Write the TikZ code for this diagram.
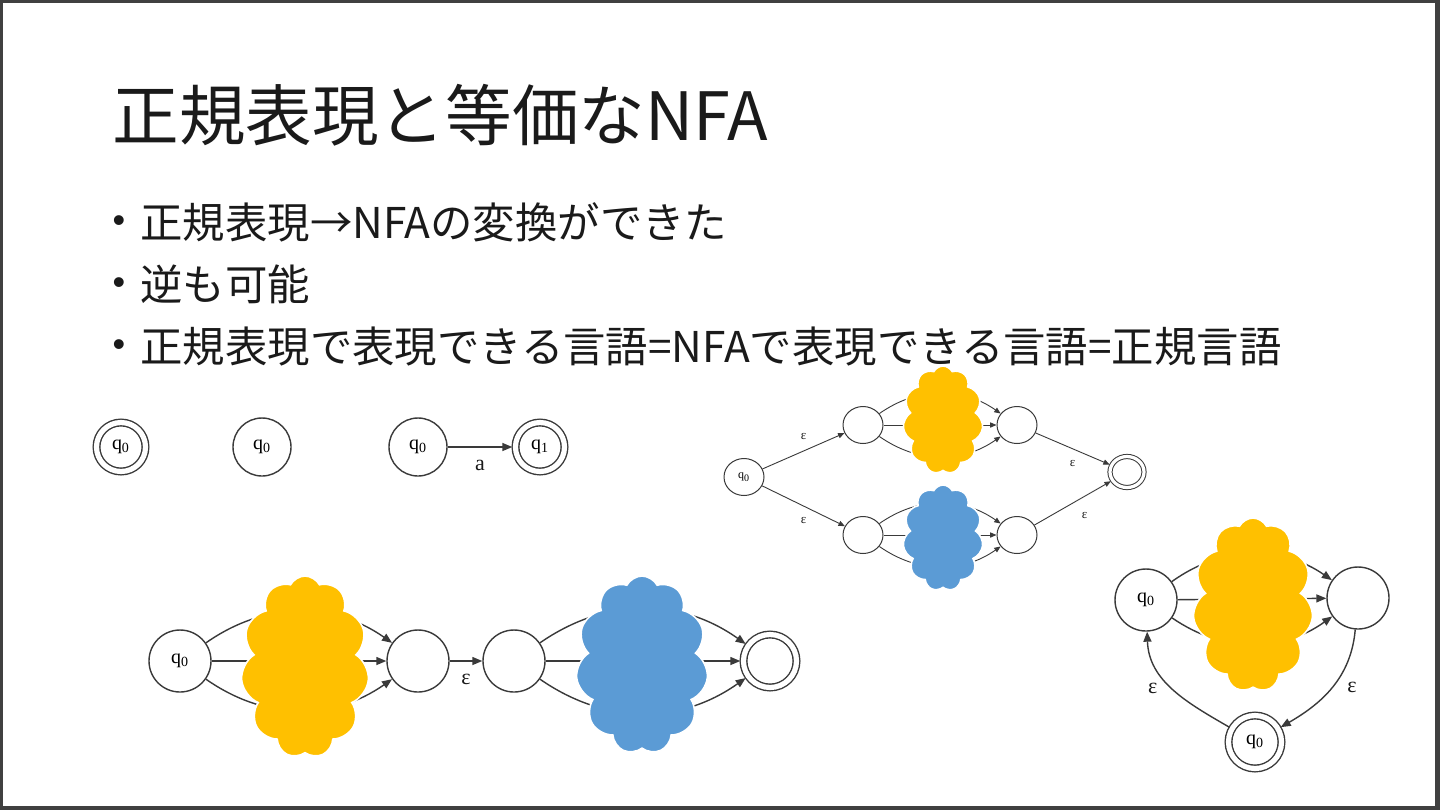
\documentclass[tikz,border=0pt]{standalone}
\usepackage{fontspec}
\setmainfont{Noto Sans CJK JP}
\newfontfamily\serif{Liberation Serif}
\newfontfamily\bulfont{Liberation Sans}
\usetikzlibrary{shapes.symbols,shapes.geometric,arrows.meta}
\definecolor{cyel}{HTML}{FFC000}
\definecolor{cblu}{HTML}{5B9BD5}
\definecolor{frame}{HTML}{404040}
\definecolor{txt}{HTML}{1A1A1A}
\definecolor{ln}{HTML}{3A3A3A}
\tikzset{
  big/.style={circle, draw=ln, line width=0.7pt, fill=white, inner sep=0pt, minimum size=31pt, font=\serif\fontsize{10}{10}\selectfont},
  bigacc/.style={big, minimum size=26.5pt, double, double distance=2.6pt, outer sep=1.6pt},
  mid/.style={circle, draw=ln, line width=0.7pt, fill=white, inner sep=0pt, minimum size=29pt, font=\serif\fontsize{10}{10}\selectfont},
  midacc/.style={mid, minimum size=24.5pt, double, double distance=2.6pt, outer sep=1.6pt},
  sm/.style={ellipse, draw=ln, line width=0.5pt, fill=white, inner sep=0pt, minimum width=20pt, minimum height=18.5pt, font=\serif\fontsize{6}{6}\selectfont},
  smacc/.style={sm, minimum width=17pt, minimum height=15.5pt, double, double distance=1.6pt, outer sep=1pt},
  edge/.style={draw=ln, line width=0.7pt, -{Triangle[length=5pt,width=4pt]}},
  sedge/.style={draw=ln, line width=0.45pt, -{Triangle[length=3.2pt,width=2.6pt]}},
  lbl/.style={font=\serif\fontsize{11}{11}\selectfont, text=txt},
  slbl/.style={font=\serif\fontsize{6.5}{6.5}\selectfont, text=txt},
  cl/.style={cloud, cloud puffs=11, cloud puff arc=125, cloud ignores aspect, draw=white, line width=0.8pt, inner sep=0pt},
  bul/.style={anchor=base west, font=\fontsize{21.2}{21.2}\selectfont, text=txt},
  dot/.style={font=\bulfont\fontsize{18}{18}\selectfont, text=txt, inner sep=0pt},
}
\newcommand{\qz}{q\textsubscript{0}}
\newcommand{\qo}{q\textsubscript{1}}
\begin{document}
\begin{tikzpicture}[x=0.5pt,y=-0.5pt]
\useasboundingbox (0,0) rectangle (1440,810);
\fill[frame] (0,0) rectangle (1440,810);
\fill[white] (3,3) rectangle (1435,806);

% title and bullets
\node[anchor=base west, font=\fontsize{33.3}{33.3}\selectfont, text=txt, inner sep=0pt] (title) at (112,140) {正規表現と等価なNFA};
\node[dot] (d1) at (119,224) {•};
\node[dot] (d2) at (119,286) {•};
\node[dot] (d3) at (119,348) {•};
\node[bul, inner sep=0pt] (b1) at (140,238) {正規表現→NFAの変換ができた};
\node[bul, inner sep=0pt] (b2) at (140,300) {逆も可能};
\node[bul, inner sep=0pt] (b3) at (140,362) {正規表現で表現できる言語=NFAで表現できる言語=正規言語};

% basic automata
\node[midacc] (e0) at (121,447) {\qz};
\node[mid] (n0) at (262,447) {\qz};
\node[mid] (a0) at (418,447) {\qz};
\node[midacc] (a1) at (540,447) {\qo};
\draw[edge] (a0) -- node[lbl, below=3pt] {a} (a1);

% union
\node[sm] (u0) at (744,477) {\qz};
\node[sm] (u1) at (863,425) {};
\node[sm] (u2) at (1017,425) {};
\node[sm] (u3) at (863,535) {};
\node[sm] (u4) at (1017,535) {};
\node[smacc] (uf) at (1127,472) {};
\draw[sedge] (u1) to[bend left=35] (u2);
\draw[sedge] (u1) -- (u2);
\draw[sedge] (u1) to[bend right=35] (u2);
\draw[sedge] (u3) to[bend left=35] (u4);
\draw[sedge] (u3) -- (u4);
\draw[sedge] (u3) to[bend right=35] (u4);
\node[cl, fill=cyel, minimum width=40pt, minimum height=54pt] (uc1) at (943,420) {};
\node[cl, fill=cblu, minimum width=40pt, minimum height=53pt] (uc2) at (943,538) {};
\draw[sedge] (u0) -- node[slbl, above=2pt] {ε} (u1);
\draw[sedge] (u0) -- node[slbl, below=2pt] {ε} (u3);
\draw[sedge] (u2) -- node[slbl, below=2pt] {ε} (uf);
\draw[sedge] (u4) -- node[slbl, below right=1pt] {ε} (uf);

% concatenation
\node[big] (c0) at (180,661) {\qz};
\node[big] (c1) at (418,661) {};
\node[big] (c2) at (514,661) {};
\node[bigacc] (cf) at (770,661) {};
\draw[edge] (c0) to[bend left=35] (c1);
\draw[edge] (c0) -- (c1);
\draw[edge] (c0) to[bend right=35] (c1);
\draw[edge] (c2) to[bend left=35] (cf);
\draw[edge] (c2) -- (cf);
\draw[edge] (c2) to[bend right=35] (cf);
\node[cl, fill=cyel, minimum width=64pt, minimum height=91pt] (cc1) at (305,667) {};
\node[cl, fill=cblu, minimum width=66pt, minimum height=89pt] (cc2) at (642,665) {};
\draw[edge] (c1) -- node[lbl, below=3pt] {ε} (c2);

% star
\node[big] (s0) at (1146,600) {\qz};
\node[big] (s1) at (1358,598) {};
\node[bigacc] (sf) at (1255,742) {\qz};
\draw[edge] (s0) to[bend left=35] (s1);
\draw[edge] (s0) -- (s1);
\draw[edge] (s0) to[bend right=35] (s1);
\node[cl, fill=cyel, minimum width=60pt, minimum height=87pt] (sc) at (1253,605) {};
\draw[edge] (s1) to[out=-95, in=30] node[lbl, right=4pt] {ε} (sf);
\draw[edge] (sf) to[out=150, in=-88] node[lbl, left=4pt] {ε} (s0);
\end{tikzpicture}
\end{document}
